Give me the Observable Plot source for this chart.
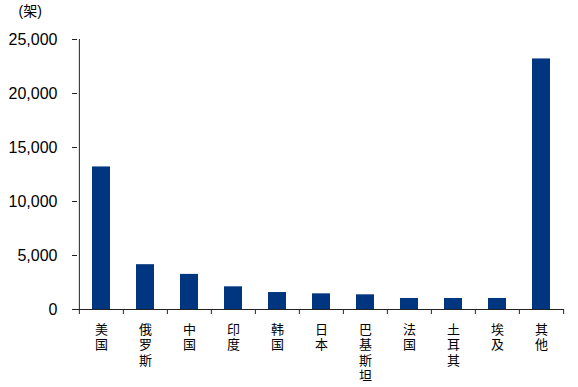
<!DOCTYPE html>
<html>
<head>
<meta charset="utf-8">
<script src="https://cdn.jsdelivr.net/npm/d3@7"></script>
<script src="https://cdn.jsdelivr.net/npm/@observablehq/plot@0.6"></script>
<style>
  html, body { margin: 0; padding: 0; background: #fff; }
</style>
</head>
<body>
<div id="chart"></div>
<script>
const categories = ["美国", "俄罗斯", "中国", "印度", "韩国", "日本", "巴基斯坦", "法国", "土耳其", "埃及", "其他"];
const values = [13200, 4150, 3250, 2100, 1570, 1450, 1360, 1020, 1020, 1020, 23200];
const yTicks = [0, 5000, 10000, 15000, 20000, 25000];
const unitLabel = "(架)";

const data = categories.map((c, i) => ({cat: c, val: values[i]}));

const W = 578, H = 387, ml = 77, mr = 14, mt = 39, mb = 78;
const step = (W - ml - mr) / categories.length;
const axisColor = "#222";

const chart = Plot.plot({
  width: W, height: H,
  marginLeft: ml, marginRight: mr, marginTop: mt, marginBottom: mb,
  style: {fontFamily: "'Liberation Sans', Arial, 'Noto Sans CJK SC', sans-serif", background: "#fff", color: "#000"},
  x: {domain: categories, paddingInner: 0.6, paddingOuter: 0.3, label: null},
  y: {domain: [0, 25000], label: null},
  marks: [
    Plot.barY(data, {x: "cat", y: "val", fill: "#003580"}),
    Plot.ruleY([0], {stroke: axisColor}),
    Plot.ruleX([categories[0]], {dx: -step / 2, stroke: axisColor}),
    Plot.axisY({ticks: yTicks, tickSize: 5, tickPadding: 15, fontSize: 16, stroke: axisColor,
      tickFormat: d3.format(","), label: null}),
    Plot.axisX({tickSize: 0, tickPadding: 13, fontSize: 13, fontFamily: "'Noto Sans CJK SC', sans-serif",
      lineHeight: 1.2, tickFormat: d => [...d].join("\n"), label: null}),
    Plot.axisX({tickSize: 5, dx: -step / 2, stroke: axisColor, tickFormat: () => "", label: null}),
    Plot.axisX({ticks: [categories[categories.length - 1]], tickSize: 5, dx: step / 2, stroke: axisColor,
      tickFormat: () => "", label: null}),
    Plot.text([unitLabel], {frameAnchor: "top-left", dx: -59, dy: -28, textAnchor: "start",
      lineAnchor: "middle", fontSize: 14})
  ]
});
document.getElementById("chart").appendChild(chart);
</script>
</body>
</html>
